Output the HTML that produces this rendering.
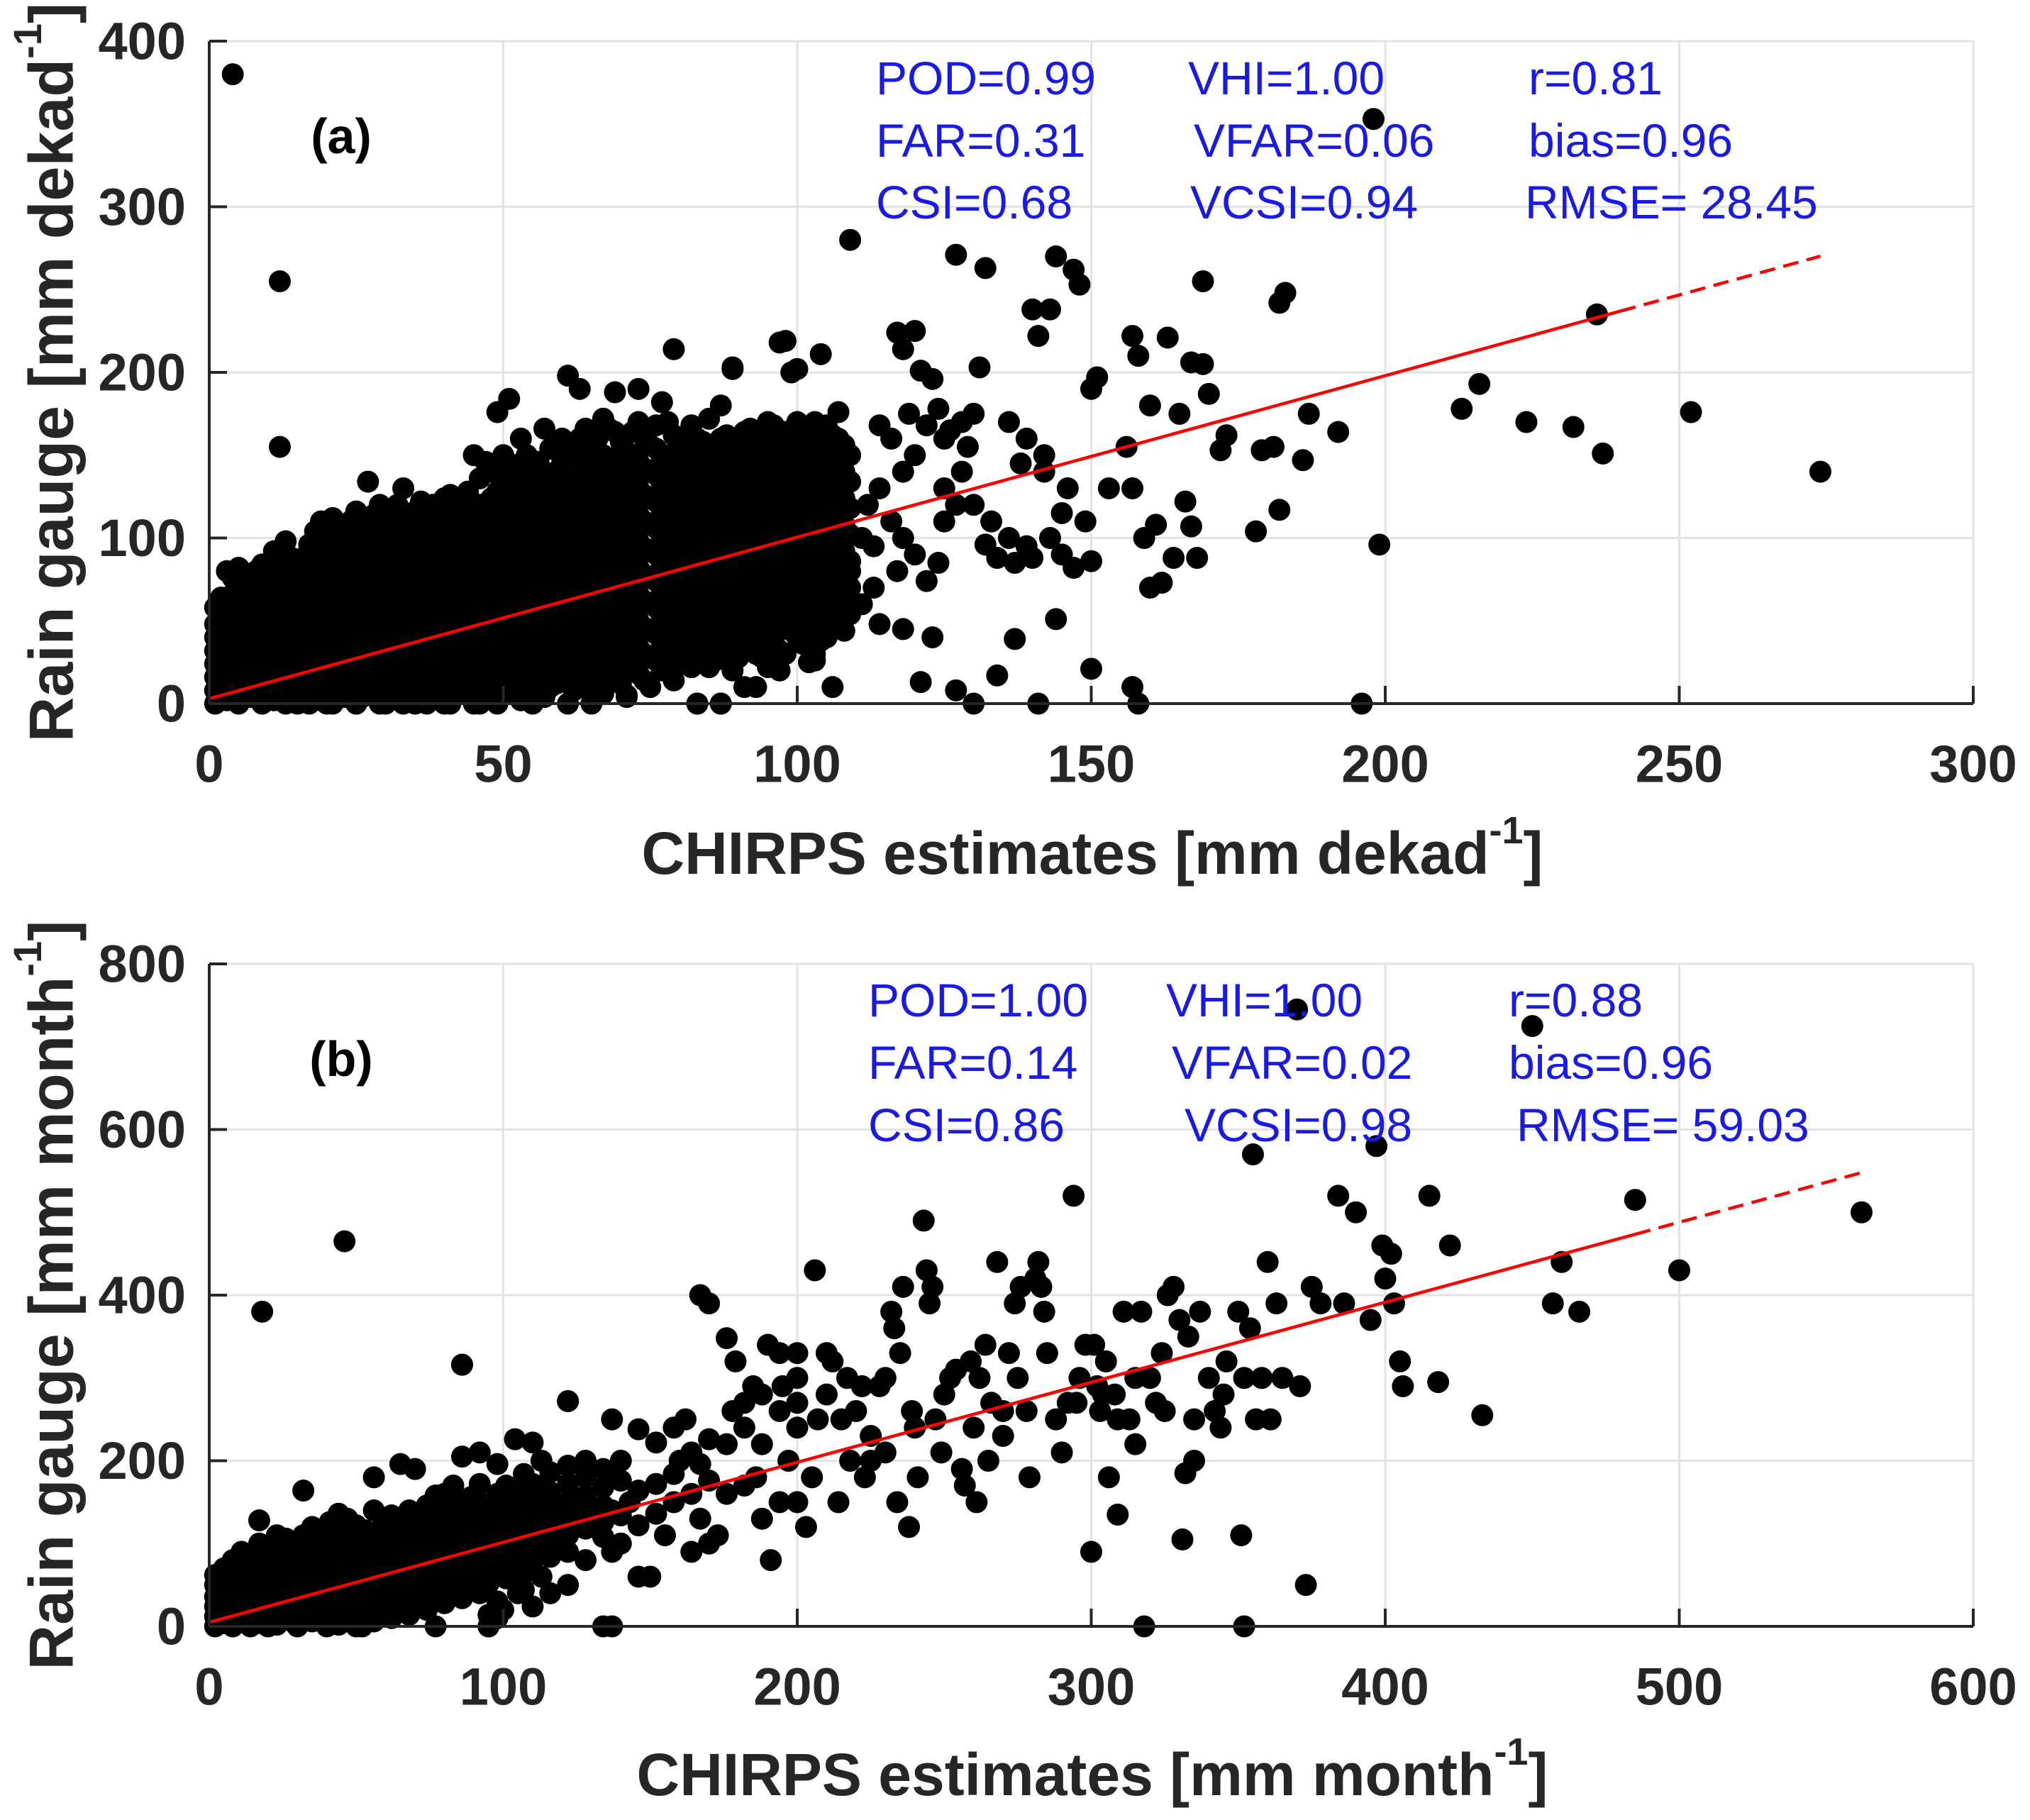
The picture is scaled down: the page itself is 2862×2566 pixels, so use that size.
<!DOCTYPE html>
<html><head><meta charset="utf-8"><style>
html,body{margin:0;padding:0;background:#fff;}
svg{display:block;font-family:"Liberation Sans",Arial,sans-serif;}
</style></head><body>
<svg id="chart" width="2862" height="2566" viewBox="0 0 2862 2566" xmlns="http://www.w3.org/2000/svg"></svg>
<script>
// ---------- Panel (a) data: dekadal ----------
const xTicksA = [0,50,100,150,200,250,300];
const yTicksA = [0,100,200,300,400];
const cloudA = [
[1,[0,8,16,24,32,40,48,58]],[3,[2,10,20,30,40,50,60,80]],[5,[0,12,22,34,46,56,70,82]],[7,[4,14,26,38,50,62,76]],
[9,[0,10,20,32,44,56,68,84]],[11,[2,14,28,40,52,64,78,92]],[13,[0,8,22,34,48,60,74,98]],[15,[4,16,30,42,56,70,84]],
[17,[0,12,26,38,52,66,80,96]],[19,[2,14,28,44,58,72,88,110]],[21,[0,10,24,36,50,64,80,96,112]],[23,[4,18,32,46,60,74,90,104]],
[25,[0,12,28,42,56,70,86,100,116]],[27,[6,20,34,50,64,80,94,134]],[29,[0,14,30,44,58,74,90,108,120]],[31,[4,18,34,50,66,82,98,114]],
[33,[0,12,28,44,60,76,92,106,130]],[35,[6,22,38,54,70,86,102,116]],[37,[0,16,32,48,64,80,96,112]],[39,[4,20,36,52,68,84,100,118]],
[41,[0,14,30,46,62,78,94,110,126]],[43,[8,24,40,56,72,88,104,120]],[45,[0,16,32,48,64,80,96,112,150]],[47,[6,22,38,54,70,86,102,118,146]],
[49,[0,14,30,46,62,78,94,110,128,176]],[51,[8,24,40,56,72,88,104,120,140,184]],[53,[2,18,34,50,66,82,98,114,130,160]],[55,[10,26,42,58,74,90,106,122,138]],
[57,[4,20,36,52,68,84,100,116,132,166]],[59,[12,28,44,60,76,92,108,124,140]],[61,[0,18,34,50,66,82,98,114,130,150,198]],[63,[10,26,42,58,74,90,106,122,138,160,190]],
[65,[16,32,48,64,80,96,112,128,144,156]],[67,[6,22,38,54,70,86,102,118,134,150,172]],[69,[14,30,46,62,78,94,110,126,142,164,188]],[71,[4,24,40,56,72,88,104,120,136,152]],
[73,[18,34,50,66,82,98,114,130,146,170,190]],[75,[10,28,44,60,76,92,108,124,140,156]],[77,[20,36,52,68,84,100,116,132,148,182]],[79,[14,30,46,62,78,94,110,126,142,162,214]],
[81,[24,40,56,72,88,104,120,136,152]],[83,[0,32,48,64,80,96,112,128,144,160]],[85,[22,38,54,70,86,102,118,134,150,172]],[87,[0,30,46,62,78,94,110,126,142,160,180]],
[89,[26,42,58,74,90,106,122,138,154,202]],[91,[10,36,52,68,84,100,116,132,148,164]],[93,[30,46,62,78,94,110,126,142,158]],[95,[22,40,56,72,88,104,120,136,152,170]],
[97,[32,48,64,80,96,112,128,144,160,218]],[99,[44,60,76,92,108,124,140,156,200]],[101,[36,52,68,84,100,116,132,148,164]],[103,[26,48,64,80,96,112,128,144,160,170]],
[105,[40,56,72,88,104,120,136,152,168]],[107,[46,62,78,94,110,126,142,160,176]],[109,[54,70,86,102,118,134,150]]
];
const cloudA2 = [
[2,[4,12,20,28,36,44,52,64]],[4,[6,16,26,36,46,56,66,76]],[6,[8,18,28,40,52,64,74]],[8,[6,16,26,38,50,62,72,80]],
[10,[8,20,34,46,58,70,84]],[12,[4,14,28,40,54,66,80,92]],[14,[10,24,36,50,62,76,88]],[16,[6,20,34,46,60,74,88]],
[18,[8,20,34,48,62,76,92,104]],[20,[4,18,30,44,56,70,86,100]],[22,[6,20,38,52,66,82,96,108]],[24,[10,24,38,52,66,80,94,110]],
[26,[4,18,34,48,62,76,92,106]],[28,[12,26,42,56,70,86,100,114]],[30,[6,22,38,52,66,82,98,112]],[32,[10,26,40,56,72,88,104,120]],
[34,[4,20,36,52,68,84,98,112]],[36,[12,28,44,60,76,92,108,122]],[38,[8,24,40,56,72,88,104,120]],[40,[12,28,44,60,76,92,108,124]],
[42,[6,22,38,54,70,86,102,118]],[44,[14,32,48,64,80,96,112,128]],[46,[8,24,40,56,72,88,104,120,136]],[48,[12,28,44,60,76,92,108,124,140]],
[50,[6,22,38,54,70,86,102,118,134,150]],[52,[14,30,46,62,78,94,110,126,144]],[54,[8,24,40,56,72,88,104,120,136,150]],[56,[18,34,50,66,82,98,114,130,146]],
[58,[10,26,42,58,74,90,106,122,138,154]],[60,[20,36,52,68,84,100,116,132,148,160]],[62,[8,26,42,58,74,90,106,122,138,156]],[64,[18,34,50,66,82,98,114,130,146,166]],
[66,[10,28,44,60,76,92,108,124,140,160]],[68,[20,36,52,68,84,100,116,132,148,166]],[70,[12,30,46,62,78,94,110,126,142,158]],[72,[22,38,54,70,86,102,118,134,150,164]],
[74,[14,30,46,62,78,94,110,126,142,160]],[76,[26,42,58,74,90,106,122,138,154,168]],[78,[20,38,54,70,86,102,118,134,150,170]],[80,[30,46,62,78,94,110,126,142,158]],
[82,[22,40,56,72,88,104,120,136,152,168]],[84,[30,46,62,78,94,110,126,142,158]],[86,[26,42,58,74,90,106,122,138,156]],[88,[34,50,66,82,98,114,130,146,162]],
[90,[28,46,62,78,94,110,126,142,158]],[92,[36,54,70,86,102,118,134,150,166]],[94,[28,46,62,78,94,110,126,142,160]],[96,[38,56,72,88,104,120,136,152,168]],
[98,[30,50,66,82,98,114,130,146,164]],[100,[40,58,74,90,106,122,138,154,170]],[102,[46,62,78,94,110,126,142,158]],[104,[38,54,70,86,102,118,134,150,166]],
[106,[50,66,82,98,114,130,146,162]],[108,[44,60,76,92,108,124,140,156]]
];
const scatterA = [[4,380],[12,255],[12,155],[198,353],[109,280],[127,271],[132,263],[144,270],[147,262],[148,253],[140,238],[143,238],[141,222],[169,255],[182,242],[183,248],[117,224],[120,225],[118,214],[104,211],[100,202],[98,219],[89,203],[121,201],[123,196],[131,203],[150,190],[151,197],[157,222],[158,210],[163,221],[167,206],[169,205],[170,187],[165,175],[160,180],[156,155],[172,153],[173,162],[179,153],[181,155],[187,175],[192,164],[186,147],[182,117],[178,104],[199,96],[213,178],[216,193],[224,170],[232,167],[237,151],[236,235],[252,176],[274,140],[159,100],[161,108],[166,122],[167,107],[164,88],[168,88],[160,70],[162,73],[157,130],[153,130],[149,110],[145,115],[142,150],[139,160],[136,170],[130,175],[128,170],[125,160],[122,168],[120,150],[118,140],[114,130],[116,110],[112,120],[125,110],[127,120],[130,120],[133,110],[136,100],[139,95],[143,100],[147,82],[150,86],[145,90],[140,88],[137,85],[120,90],[117,80],[122,74],[113,70],[111,60],[114,48],[118,45],[121,13],[123,40],[127,8],[130,0],[134,17],[137,39],[141,0],[144,51],[150,21],[157,10],[158,0],[196,0],[109,80],[111,100],[103,30],[97,20],[93,10],[89,20],[83,0],[87,0],[99,70],[113,95],[118,100],[124,85],[132,96],[134,88],[138,145],[142,140],[146,130],[125,130],[128,140],[116,160],[114,168],[119,175],[124,178],[126,165],[129,155],[106,10],[102,25],[65,0],[71,5],[55,0],[46,0],[40,0],[35,0],[30,0],[25,0],[20,0],[15,0]];
const fitA = {intercept:3, slope:0.975, solidEnd:240, dashEnd:274};
const statsA = [["POD=0.99","FAR=0.31","CSI=0.68"],["VHI=1.00","VFAR=0.06","VCSI=0.94"],["r=0.81","bias=0.96","RMSE= 28.45"]];

// ---------- Panel (b) data: monthly ----------
const xTicksB = [0,100,200,300,400,500,600];
const yTicksB = [0,200,400,600,800];
const cloudB = [
[2,[0,12,24,36,50,62]],[5,[4,16,28,40,54,70]],[8,[0,10,22,34,46,60,80]],[11,[6,18,30,42,56,72,90]],
[14,[0,12,26,40,54,68,84]],[17,[4,18,32,46,60,76,100,128]],[20,[8,22,36,50,66,82,98]],[23,[2,16,30,46,62,78,94,110]],
[26,[10,26,42,58,74,90,106]],[29,[4,20,36,52,68,84,100]],[32,[12,28,44,60,76,92,110,164]],[35,[6,22,38,54,70,86,104,120]],
[38,[14,30,46,62,78,94,112]],[41,[8,26,42,58,74,90,108,126]],[44,[2,18,36,52,68,84,100,118,136]],[47,[10,28,44,60,76,94,112,130]],
[50,[0,20,38,54,70,86,104,122]],[53,[14,30,48,64,80,98,116]],[56,[6,24,42,58,74,92,110,140]],[59,[18,36,52,68,86,104,122]],
[62,[10,30,46,62,80,98,116,134]],[65,[22,40,56,74,92,110,128,196]],[68,[14,34,50,68,86,104,122,140]],[71,[26,44,62,80,98,116,134]],
[74,[20,38,56,74,92,110,128,146]],[77,[0,32,50,68,86,104,122,140,158]],[80,[28,46,64,82,100,118,136,160]],[83,[40,58,76,94,112,130,150,170]],
[86,[34,52,70,88,106,124,142,205,316]],[89,[46,64,82,100,118,136,156]],[92,[40,58,76,94,112,130,150,172,210]],[95,[0,14,52,70,88,106,124,146]],
[98,[10,30,64,82,100,118,136,160,196]],[101,[58,76,94,112,130,150,170]],[104,[70,88,106,124,142,162,226]],[107,[44,64,84,102,120,140,160,184]],
[110,[24,78,96,114,132,152,172,222]],[113,[60,90,108,126,146,166,200]],[116,[40,84,102,122,142,162,186]],
[122,[50,90,110,130,150,172,194,272]],[128,[80,118,138,158,180,200]],
[134,[0,108,126,146,168,190]],[137,[90,140,182,250]],[140,[100,134,176,200]],
[146,[60,122,164,238]],[152,[136,172,222]],
[158,[150,184,240]],[164,[90,160,210]],[167,[130,196,400]],
[170,[100,176,226,390]],[176,[160,220,348]],
[182,[170,240,270]],[188,[130,220,280]],[194,[150,260,330]],[200,[150,240,300]]
];
const scatterB = [[179,320],[185,290],[191,80],[197,200],[203,120],[206,430],[205,180],[207,250],[210,280],[212,320],[214,150],[217,300],[218,200],[220,260],[223,180],[225,230],[228,290],[230,210],[232,380],[233,360],[234,150],[235,330],[236,410],[238,120],[239,260],[241,180],[243,490],[244,430],[245,390],[247,250],[249,210],[250,280],[252,300],[254,310],[256,190],[257,170],[259,320],[260,240],[261,150],[262,300],[264,340],[266,270],[268,440],[270,230],[272,330],[274,390],[276,410],[278,260],[279,180],[281,420],[282,440],[284,380],[285,330],[288,250],[290,210],[292,270],[294,520],[296,300],[298,340],[300,90],[301,340],[303,260],[305,320],[306,180],[308,280],[309,135],[311,380],[313,250],[315,220],[317,380],[318,0],[320,300],[322,270],[324,330],[326,400],[328,410],[330,370],[331,105],[332,185],[333,350],[335,200],[337,380],[340,300],[342,260],[344,240],[346,320],[350,380],[351,110],[352,0],[354,360],[355,570],[356,250],[358,300],[360,440],[361,250],[363,390],[370,745],[371,290],[373,50],[375,410],[378,390],[384,520],[386,390],[390,500],[395,370],[397,580],[399,460],[400,420],[402,450],[403,390],[405,320],[406,290],[415,520],[418,295],[422,460],[433,255],[450,725],[457,390],[460,440],[466,380],[485,515],[500,430],[562,500],[18,380],[46,465],[86,316],[122,272],[63,130],[60,100],[70,190],[56,180],[52,0],[40,0],[30,0],[20,0],[137,0],[95,0],[100,20],[105,40],[160,200],[190,340],[200,330],[210,330],[222,290],[246,410],[200,270],[230,300],[215,250],[195,290],[225,200],[240,240],[265,200],[270,260],[275,300],[283,410],[295,270],[304,280],[315,300],[325,260],[335,250],[345,280],[352,300],[365,300],[302,290],[309,250],[150,60],[155,110],[143,150],[131,120],[125,150],[119,110],[173,110],[178,260],[186,180],[162,250]];
const fitB = {intercept:5, slope:0.966, solidEnd:485, dashEnd:562};
const statsB = [["POD=1.00","FAR=0.14","CSI=0.86"],["VHI=1.00","VFAR=0.02","VCSI=0.98"],["r=0.88","bias=0.96","RMSE= 59.03"]];

const NS = "http://www.w3.org/2000/svg";
const svg = document.getElementById('chart');
function mk(tag, attrs, parent){
  const e = document.createElementNS(NS, tag);
  for (const k in attrs) e.setAttribute(k, attrs[k]);
  (parent||svg).appendChild(e);
  return e;
}

function drawPanel(cfg){
  const g = mk('g', {});
  
  
  const xmax = cfg.xTicks[cfg.xTicks.length-1], ymax = cfg.yTicks[cfg.yTicks.length-1];
  const sx = v => cfg.x0 + (v/xmax)*(cfg.x1-cfg.x0);
  const sy = v => cfg.yb - (v/ymax)*(cfg.yb-cfg.yt);
  cfg.xTicks.forEach(t => {
    const l = mk('line', {x1:sx(t),x2:sx(t),y1:cfg.yt,y2:cfg.yb,stroke:'#e3e3e3','stroke-width':3}, g);
    
    
  });
  cfg.yTicks.forEach(t => {
    const l = mk('line', {x1:cfg.x0,x2:cfg.x1,y1:sy(t),y2:sy(t),stroke:'#e3e3e3','stroke-width':3}, g);
    
    
  });
  const pts = [];
  cfg.clouds.forEach(cl => cl.forEach(c => c[1].forEach(y => pts.push([c[0], y]))));
  cfg.scatter.forEach(p => pts.push(p));
  pts.forEach(p => {
    const c = mk('circle', {cx:sx(p[0]), cy:sy(p[1]), r:15.5, fill:'#000'}, g);
    
    
  });
  const f = cfg.fit;
  const s1 = mk('line', {x1:sx(0),y1:sy(f.intercept),x2:sx(f.solidEnd),y2:sy(f.intercept+f.slope*f.solidEnd),stroke:'#ff0000','stroke-width':4.5}, g);
  
  
  const s2 = mk('line', {x1:sx(f.solidEnd),y1:sy(f.intercept+f.slope*f.solidEnd),x2:sx(f.dashEnd),y2:sy(f.intercept+f.slope*f.dashEnd),stroke:'#ff0000','stroke-width':4.5,'stroke-dasharray':'22 12'}, g);
  
  
  const ax = mk('line', {x1:cfg.x0,x2:cfg.x1,y1:cfg.yb,y2:cfg.yb,stroke:'#262626','stroke-width':4}, g);
  
  
  const ay = mk('line', {x1:cfg.x0,x2:cfg.x0,y1:cfg.yt,y2:cfg.yb,stroke:'#262626','stroke-width':4}, g);
  
  
  cfg.xTicks.forEach(t => {
    const tk = mk('line', {x1:sx(t),x2:sx(t),y1:cfg.yb,y2:cfg.yb-25,stroke:'#262626','stroke-width':4}, g);
    
    
    const tl = mk('text', {x:sx(t), y:cfg.yb+85, 'text-anchor':'middle', 'dominant-baseline':'central', 'font-size':74, 'font-weight':'bold', fill:'#262626'}, g);
    tl.textContent = t;
    
    
  });
  cfg.yTicks.forEach(t => {
    const tk = mk('line', {x1:cfg.x0,x2:cfg.x0+25,y1:sy(t),y2:sy(t),stroke:'#262626','stroke-width':4}, g);
    
    
    const tl = mk('text', {x:262, y:sy(t), 'text-anchor':'end', 'dominant-baseline':'central', 'font-size':74, 'font-weight':'bold', fill:'#262626'}, g);
    tl.textContent = t;
    
    
  });
  const pl = mk('text', {x:481, y:cfg.yt+134, 'text-anchor':'middle', 'dominant-baseline':'central', 'font-size':70, 'font-weight':'bold', fill:'#000'}, g);
  pl.textContent = cfg.label;
  
  
  cfg.stats.forEach((col, ci) => col.forEach((txt, ri) => {
    const t = mk('text', {x:cfg.statX[ci][ri], y:cfg.statY[ri], 'dominant-baseline':'central', 'font-size':66, fill:'#1a1ae6'}, g);
    t.textContent = txt;
    
    
  }));
  const xt = mk('text', {x:1540, y:cfg.xTitleY, 'text-anchor':'middle', 'dominant-baseline':'central', 'font-size':84, 'font-weight':'bold', fill:'#262626'}, g);
  
  
  xt.appendChild(document.createTextNode('CHIRPS estimates [mm ' + cfg.unit));
  const sup1 = mk('tspan', {dy:-32, 'font-size':54}, xt); sup1.textContent = '-1';
  const end1 = mk('tspan', {dy:32}, xt); end1.textContent = ']';
  const yc = (cfg.yt + cfg.yb)/2;
  const yt = mk('text', {x:0, y:0, transform:`translate(72,${yc}) rotate(-90)`, 'text-anchor':'middle', 'dominant-baseline':'central', 'font-size':88, 'font-weight':'bold', fill:'#262626'}, g);
  
  
  yt.appendChild(document.createTextNode('Rain gauge [mm ' + cfg.unit));
  const sup2 = mk('tspan', {dy:-34, 'font-size':56}, yt); sup2.textContent = '-1';
  const end2 = mk('tspan', {dy:34}, yt); end2.textContent = ']';
}

drawPanel({name:'panel-a-dekadal', x0:295, x1:2782, yt:58, yb:992, xTicks:xTicksA, yTicks:yTicksA,
  clouds:[cloudA, cloudA2], scatter:scatterA, fit:fitA, stats:statsA, label:'(a)', unit:'dekad',
  statX:[[1235,1235,1235],[1675,1683,1678],[2155,2155,2150]], statY:[110,198,285], xTitleY:1203});
drawPanel({name:'panel-b-monthly', x0:295, x1:2782, yt:1359, yb:2293, xTicks:xTicksB, yTicks:yTicksB,
  clouds:[cloudB], scatter:scatterB, fit:fitB, stats:statsB, label:'(b)', unit:'month',
  statX:[[1224,1224,1224],[1644,1652,1670],[2127,2127,2138]], statY:[1410,1498,1586], xTitleY:2502});
</script>
</body></html>
